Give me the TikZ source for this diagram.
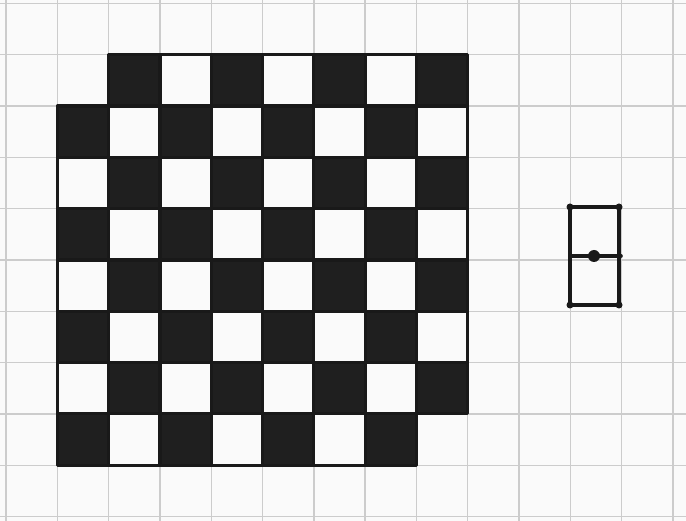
\documentclass[tikz,border=0pt]{standalone}
\begin{document}
\begin{tikzpicture}[x=1pt,y=-1pt,
  gridline/.style={draw=black!20,line width=1.4pt},
  cell/.style={draw=black!90,line width=3.2pt,line join=round},
  blk/.style={fill=black!88},
  ink/.style={draw=black!90,line width=3.6pt,line cap=round}]
\fill[black!2] (0,0) rectangle (686,521);
\useasboundingbox (0,0) rectangle (686,521);
% graph paper
\foreach \i in {0,...,13} \draw[gridline] ({6+51.3*\i},0) -- ({6+51.3*\i},521);
\foreach \j in {0,...,10} \draw[gridline] (0,{3.5+51.3*\j}) -- (686,{3.5+51.3*\j});
% mutilated checkerboard
\foreach \r in {0,...,7}{\foreach \c in {0,...,7}{
  \pgfmathtruncatemacro\sm{\r+\c}
  \ifnum\sm=0 \else\ifnum\sm=14 \else
    \ifodd\sm
      \filldraw[cell,blk] ({57.3+51.3*\c},{54.8+51.3*\r}) rectangle ++(51.3,51.3);
    \else
      \draw[cell] ({57.3+51.3*\c},{54.8+51.3*\r}) rectangle ++(51.3,51.3);
    \fi
  \fi\fi
}}
% domino
\coordinate (dTL) at (570,207);
\coordinate (dTR) at (619,207);
\coordinate (dBL) at (570,305);
\coordinate (dBR) at (619,305);
\coordinate (dML) at (570,256);
\coordinate (dMR) at (621,256);
\draw[ink] (dTL) -- (dTR) -- (dBR) -- (dBL) -- cycle;
\draw[ink] (dML) -- (dMR);
\fill[black!90] (594,256) circle (6);
\foreach \p in {dTL,dTR,dBL,dBR} \fill[black!90] (\p) circle (3.5);
\end{tikzpicture}
\end{document}
